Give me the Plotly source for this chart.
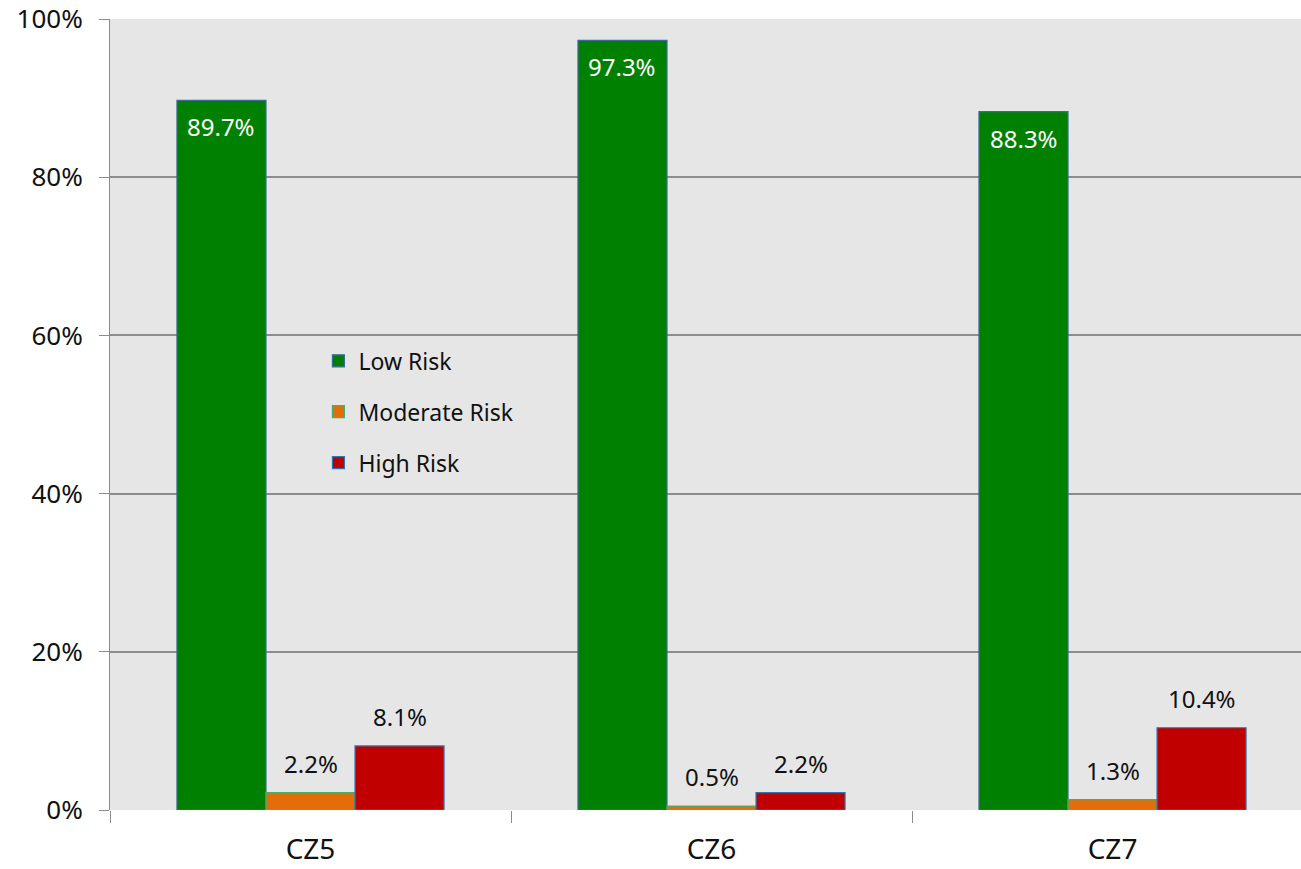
import plotly.graph_objects as go

zones = ["CZ5", "CZ6", "CZ7"]
low_risk = [89.7, 97.3, 88.3]
moderate_risk = [2.2, 0.5, 1.3]
high_risk = [8.1, 2.2, 10.4]
y_ticks = [0, 20, 40, 60, 80, 100]
y_tick_text = ["0%", "20%", "40%", "60%", "80%", "100%"]

FONT = "Noto Sans, Open Sans, sans-serif"

series = [
    ("Low Risk", low_risk, "#008000", "#3a6a95"),
    ("Moderate Risk", moderate_risk, "#E46C0A", "#3cb371"),
    ("High Risk", high_risk, "#C00000", "#2e75b6"),
]

fig = go.Figure()
for name, vals, fill, edge in series:
    fig.add_trace(go.Bar(
        x=zones, y=vals, name=name, legendgroup=name,
        marker=dict(color=fill, line=dict(color=edge, width=1.2)),
    ))

# value labels: white inside the tall bars, dark above the short ones
offsets = [-1, 0, 1]
bar_w = (1 - 0.334) / 3
annotations = []
for (name, vals, _, _), off in zip(series, offsets):
    for j, v in enumerate(vals):
        inside = v > 50
        annotations.append(dict(
            x=j + off * bar_w, y=v, xref="x", yref="y",
            text=f"{v:.1f}%", showarrow=False,
            yanchor="top" if inside else "bottom",
            yshift=-8 if inside else 11,
            font=dict(family=FONT, size=24, color="white" if inside else "#111111"),
        ))

fig.update_layout(
    width=1301, height=869,
    margin=dict(l=110, r=0, t=19, b=59),
    paper_bgcolor="white",
    plot_bgcolor="#E6E6E6",
    barmode="group",
    bargap=0.334,
    bargroupgap=0,
    font=dict(family=FONT, size=26, color="#111111"),
    annotations=annotations,
    showlegend=True,
    legend=dict(
        x=0.175, y=0.595, xanchor="left", yanchor="top",
        bgcolor="rgba(0,0,0,0)",
        font=dict(family=FONT, size=23, color="#111111"),
        traceorder="grouped", tracegroupgap=18,
        itemwidth=30,
    ),
    xaxis=dict(
        range=[-0.5, 2.47],
        automargin=False,
        tickson="boundaries",
        ticks="outside", ticklen=12, tickcolor="#8c8c8c", tickwidth=1,
        ticklabelstandoff=20,
        showgrid=False, showline=False, zeroline=False,
        tickfont=dict(family=FONT, size=28, color="#111111"),
    ),
    yaxis=dict(
        range=[0, 100],
        automargin=False,
        tickvals=y_ticks, ticktext=y_tick_text,
        ticks="outside", ticklen=10, tickcolor="#8c8c8c", tickwidth=1,
        ticklabelstandoff=11,
        ticklabeloverflow="allow",
        showgrid=True, gridcolor="#8c8c8c", gridwidth=1.5,
        showline=True, linecolor="#8c8c8c", linewidth=1,
        zeroline=False,
        tickfont=dict(family=FONT, size=26, color="#111111"),
    ),
)

fig.write_html("out.html")
